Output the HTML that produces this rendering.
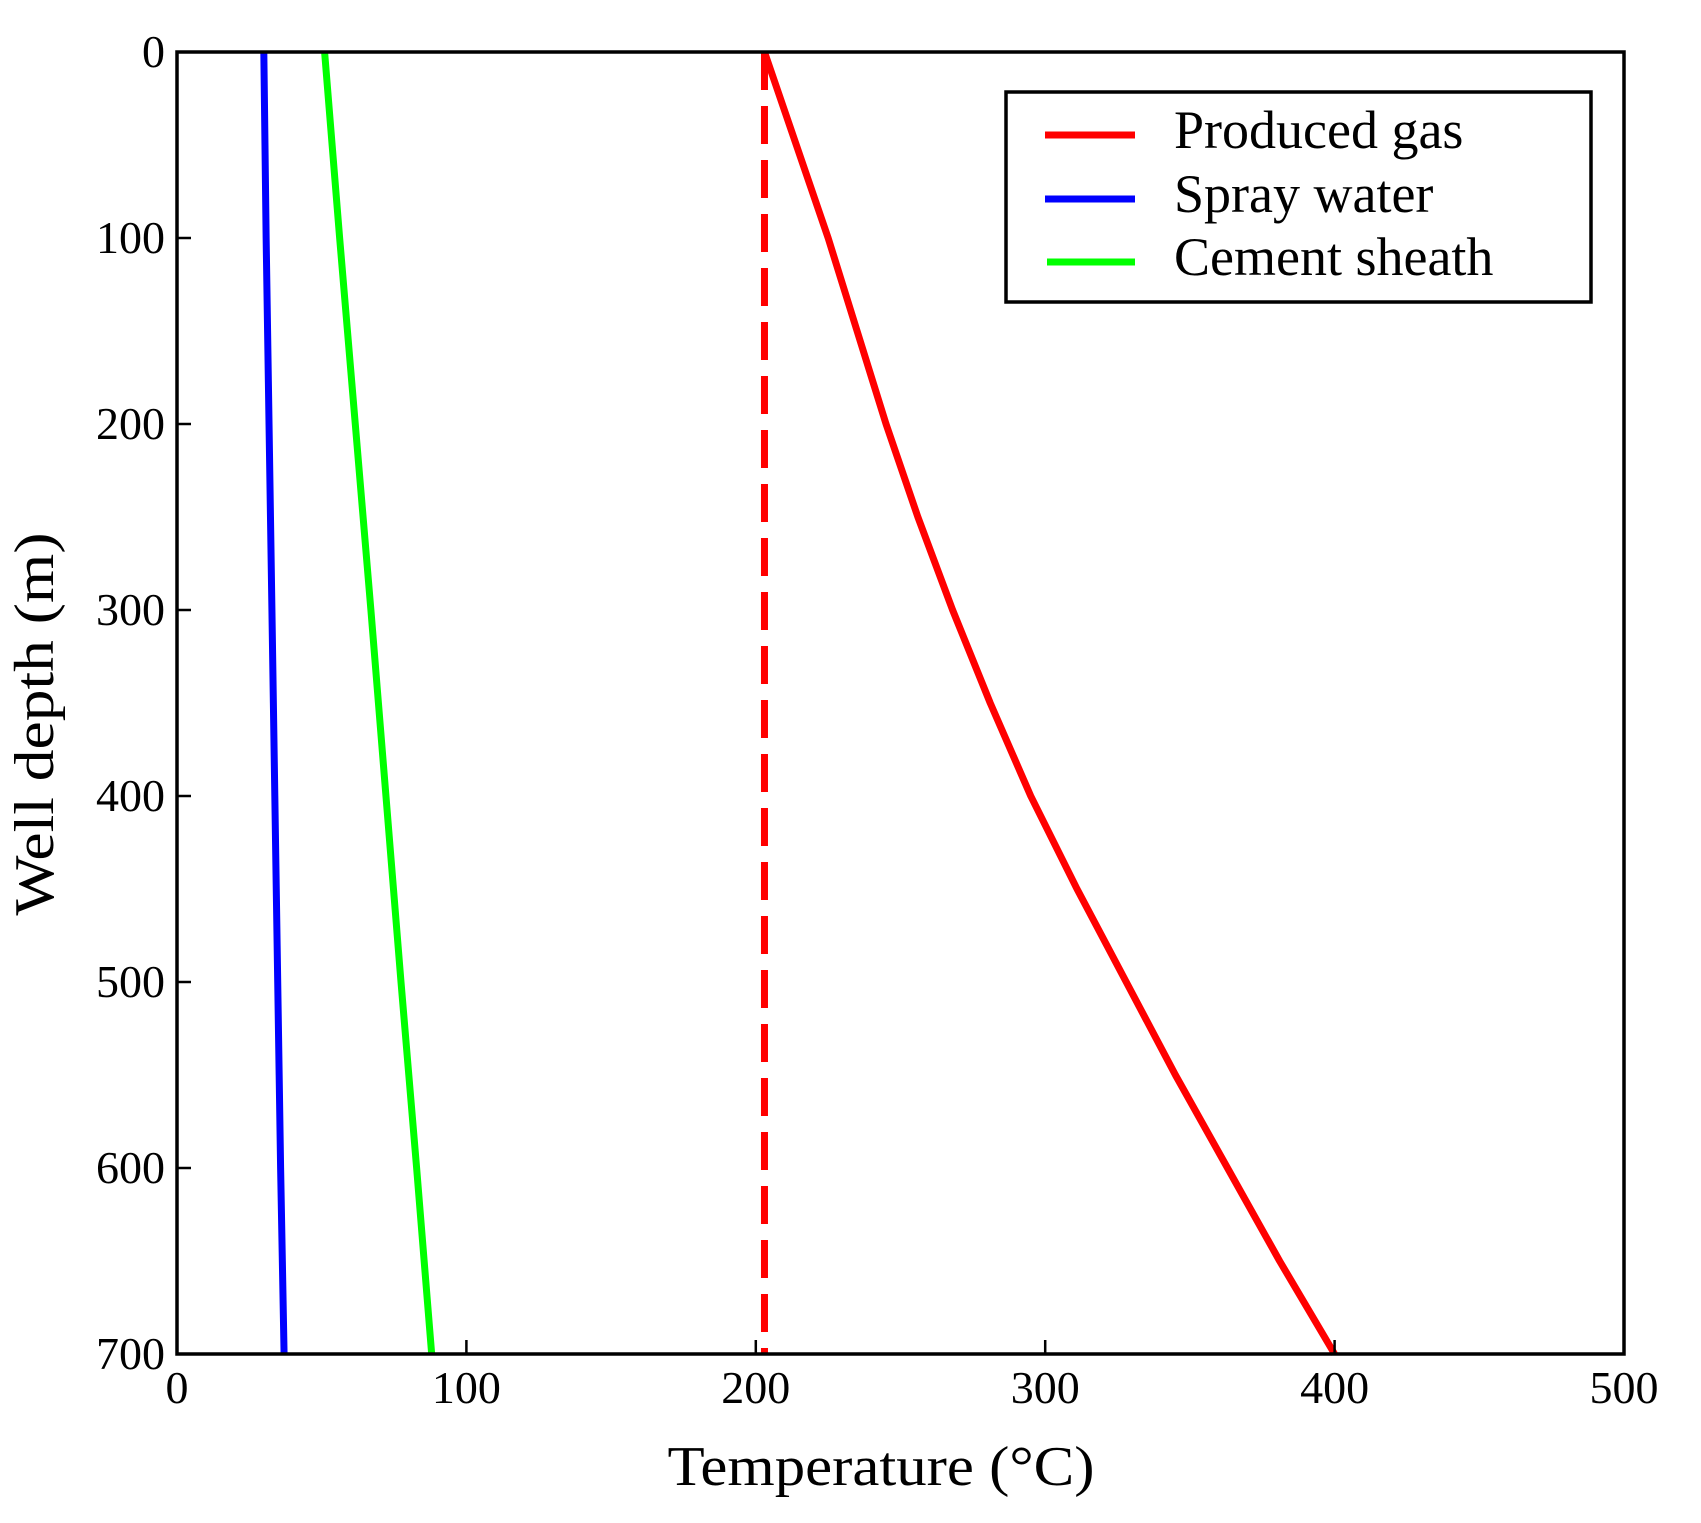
<!DOCTYPE html>
<html><head><meta charset="utf-8"><style>
html,body{margin:0;padding:0;background:#fff;}
svg{display:block;font-family:"Liberation Serif",serif;}
</style></head><body>
<svg id="chart" width="1701" height="1523" viewBox="0 0 1701 1523" xmlns="http://www.w3.org/2000/svg">
<g id="marks"></g>
<g id="axes"></g>
<g>
  <rect x="1006" y="92" width="585" height="210" fill="#fff" stroke="#000" stroke-width="3.5"/>
  <line x1="1045" y1="135" x2="1135" y2="135" stroke="#ff0000" stroke-width="7"/>
  <text x="1174" y="148" font-size="54">Produced gas</text>
  <line x1="1045" y1="199" x2="1135" y2="199" stroke="#0000ff" stroke-width="7"/>
  <text x="1174" y="212" font-size="54">Spray water</text>
  <line x1="1047" y1="262" x2="1135" y2="262" stroke="#00ff00" stroke-width="7"/>
  <text x="1174" y="275" font-size="54">Cement sheath</text>
</g>
<text x="881" y="1485" font-size="56" text-anchor="middle" textLength="427" lengthAdjust="spacingAndGlyphs">Temperature (°C)</text>
<text transform="translate(53,724) rotate(-90)" font-size="56" text-anchor="middle" textLength="383" lengthAdjust="spacingAndGlyphs">Well depth  (m)</text>
<script>
const depths = [0, 50, 100, 150, 200, 250, 300, 350, 400, 450, 500, 550, 600, 650, 700];
const producedGas = [203, 214, 225, 235, 245, 256, 268, 281, 295, 311, 328, 345, 363, 381, 400];
const sprayWater = [30, 30.4, 30.8, 31.3, 31.8, 32.3, 32.8, 33.3, 33.8, 34.3, 34.8, 35.3, 35.8, 36.4, 37];
const cementSheath = [51, 53.6, 56.2, 58.9, 61.6, 64.3, 67, 69.6, 72.2, 74.8, 77.4, 80.1, 82.8, 85.4, 88];
const initialGas = [203, 203];
const initialDepths = [0, 700];
const xTicks = [0, 100, 200, 300, 400, 500];
const yTicks = [0, 100, 200, 300, 400, 500, 600, 700];

const L = 177, R = 1624, T = 52, B = 1354;
const xMax = 500, yMax = 700;
function sx(v){ return L + (v / xMax) * (R - L); }
function sy(v){ return T + (v / yMax) * (B - T); }
const NS = 'http://www.w3.org/2000/svg';
const marks = document.getElementById('marks');
const axes = document.getElementById('axes');

function line(xs, ys, color, name, dash){
  const p = document.createElementNS(NS, 'polyline');
  p.setAttribute('points', xs.map((x, i) => sx(x) + ',' + sy(ys[i])).join(' '));
  p.setAttribute('fill', 'none');
  p.setAttribute('stroke', color);
  p.setAttribute('stroke-width', '7');
  p.setAttribute('stroke-linejoin', 'round');
  if (dash) p.setAttribute('stroke-dasharray', dash);
  
  
  marks.appendChild(p);
}
line(sprayWater, depths, '#0000ff', 'spray-water-line');
line(cementSheath, depths, '#00ff00', 'cement-sheath-line');
line(initialGas, initialDepths, '#ff0000', 'initial-gas-dashed-line', '38,16');
line(producedGas, depths, '#ff0000', 'produced-gas-line');

const frame = document.createElementNS(NS, 'rect');
frame.setAttribute('x', L); frame.setAttribute('y', T);
frame.setAttribute('width', R - L); frame.setAttribute('height', B - T);
frame.setAttribute('fill', 'none'); frame.setAttribute('stroke', '#000'); frame.setAttribute('stroke-width', '3.5');


axes.appendChild(frame);

xTicks.forEach(v => {
  const t = document.createElementNS(NS, 'line');
  t.setAttribute('x1', sx(v)); t.setAttribute('x2', sx(v));
  t.setAttribute('y1', B); t.setAttribute('y2', B - 14);
  t.setAttribute('stroke', '#000'); t.setAttribute('stroke-width', '2.5');
  
  
  axes.appendChild(t);
  const lb = document.createElementNS(NS, 'text');
  lb.setAttribute('x', sx(v)); lb.setAttribute('y', 1403);
  lb.setAttribute('font-size', '46'); lb.setAttribute('text-anchor', 'middle');
  lb.textContent = v;
  
  
  axes.appendChild(lb);
});
yTicks.forEach(v => {
  const t = document.createElementNS(NS, 'line');
  t.setAttribute('x1', L); t.setAttribute('x2', L + 14);
  t.setAttribute('y1', sy(v)); t.setAttribute('y2', sy(v));
  t.setAttribute('stroke', '#000'); t.setAttribute('stroke-width', '2.5');
  
  
  axes.appendChild(t);
  const lb = document.createElementNS(NS, 'text');
  lb.setAttribute('x', 165); lb.setAttribute('y', sy(v) + 15);
  lb.setAttribute('font-size', '46'); lb.setAttribute('text-anchor', 'end');
  lb.textContent = v;
  
  
  axes.appendChild(lb);
});
</script>
</svg>
</body></html>
